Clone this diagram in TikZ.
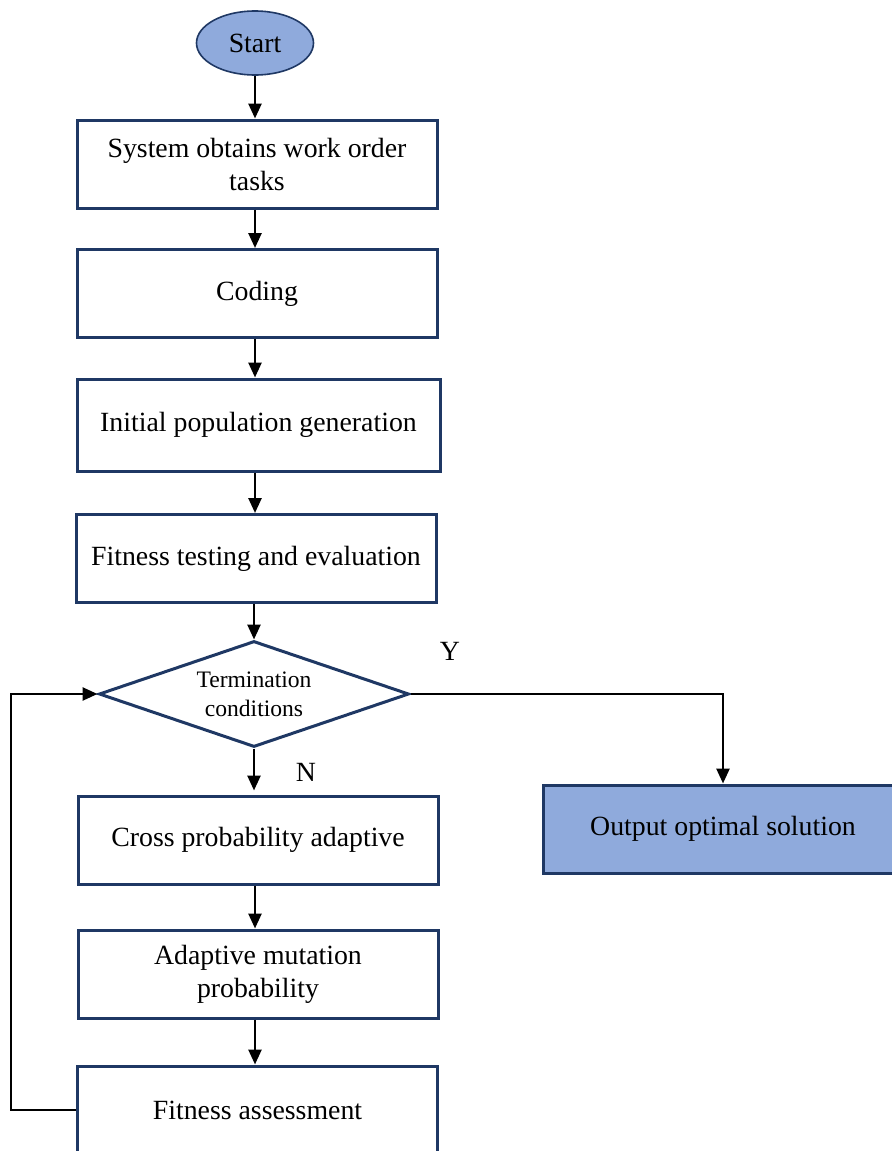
\documentclass[tikz,border=0pt]{standalone}
\usepackage{fontspec}
\setmainfont{Liberation Serif}
\usetikzlibrary{shapes.geometric,arrows.meta}
\definecolor{navy}{HTML}{1F3864}
\definecolor{paleblue}{HTML}{8FAADC}

\begin{document}
\begin{tikzpicture}[x=0.5pt,y=-0.5pt,
  box/.style={draw=navy,line width=1.5pt,minimum width=180pt,minimum height=44pt,
    align=center,inner sep=0pt,font=\fontsize{13.9}{16.5}\selectfont},
  decide/.style={diamond,draw=navy,line width=1.5pt,minimum width=155pt,minimum height=53pt,
    aspect=2.9,inner sep=0pt,align=center,font=\fontsize{11.8}{14.5}\selectfont},
  flow/.style={line width=1.3pt,-{Triangle[length=7.5pt,width=6.5pt]}},
  lbl/.style={font=\fontsize{13.9}{16.5}\selectfont}]
  \useasboundingbox (0,0) rectangle (891,1151);
  % main column
  \node[ellipse,draw=navy,line width=0.8pt,fill=paleblue,minimum width=58.5pt,minimum height=32pt,
    inner sep=0pt,font=\fontsize{13.9}{16.5}\selectfont] (start) at (255,43) {Start};
  \node[box] (sys)  at (257,164)   {System obtains work order\\tasks};
  \node[box] (code) at (257,293.5) {Coding};
  \node[box,minimum width=181.5pt,minimum height=46pt] (init) at (258.5,425) {Initial population generation};
  \node[box] (fit)  at (256,558.5) {Fitness testing and evaluation};
  \node[decide] (term) at (254,694) {Termination\\conditions};
  \node[box] (cross) at (258,840)  {Cross probability adaptive};
  \node[box] (mut)   at (258,974)  {Adaptive mutation\\probability};
  \node[box] (assess) at (257.5,1110) {Fitness assessment};
  % right branch
  \node[box,fill=paleblue] (out) at (723,829) {Output optimal solution};
  \node[lbl] (ylab) at (450,651) {Y};
  \node[lbl] (nlab) at (306,772) {N};
  % connectors
  \draw[flow] (start.south) -- (start.south |- sys.north);
  \draw[flow] (start.south |- sys.south) -- (start.south |- code.north);
  \draw[flow] (start.south |- code.south) -- (start.south |- init.north);
  \draw[flow] (start.south |- init.south) -- (start.south |- fit.north);
  \draw[flow] (term.north |- fit.south) -- (term.north);
  \draw[flow] (term.south) -- ++(0,42);
  \draw[flow] (start.south |- cross.south) -- (start.south |- mut.north);
  \draw[flow] (start.south |- mut.south) -- (start.south |- assess.north);
  \draw[flow] (term.east) -| (out.north);
  \draw[flow] (assess.west) -- ++(-65,0) |- (term.west);
\end{tikzpicture}
\end{document}
